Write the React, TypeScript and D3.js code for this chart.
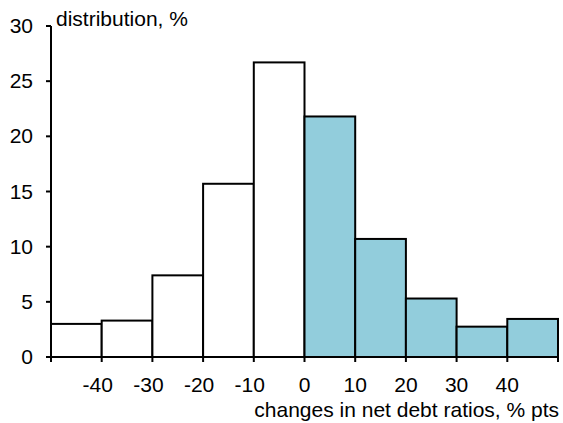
import React from "react";
import * as d3 from "d3";

const binStarts = [-50, -40, -30, -20, -10, 0, 10, 20, 30, 40];
const values = [3.0, 3.3, 7.4, 15.7, 26.7, 21.8, 10.7, 5.3, 2.75, 3.45];
const xTicks = [-50, -40, -30, -20, -10, 0, 10, 20, 30, 40, 50];
const xTickLabels = [-40, -30, -20, -10, 0, 10, 20, 30, 40];
const yTicks = [0, 5, 10, 15, 20, 25, 30];

const W = 563, H = 423;
const FONT = "Liberation Sans, Arial, sans-serif";
const FS = 21;

export default function App() {
  const x = d3.scaleLinear().domain([-50, 50]).range([51, 558]);
  const y = d3.scaleLinear().domain([0, 30]).range([357, 26]);
  const binW = 10;
  return (
    <svg width={W} height={H} style={{ position: "absolute", left: 0, top: 0, background: "#fff" }} fontFamily={FONT}>
      {binStarts.map((s, i) => (
        <rect
          key={i}
          x={x(s)}
          y={y(values[i])}
          width={x(s + binW) - x(s)}
          height={y(0) - y(values[i])}
          fill={s >= 0 ? "#92CDDC" : "#ffffff"}
          stroke="#000"
          strokeWidth={2}
        />
      ))}
      {/* y axis */}
      <line x1={x(-50)} x2={x(-50)} y1={y(30)} y2={y(0)} stroke="#000" strokeWidth={2} />
      {yTicks.map((t) => (
        <g key={t}>
          <line x1={x(-50) - 5} x2={x(-50)} y1={y(t)} y2={y(t)} stroke="#000" strokeWidth={2} />
          <text x={33} y={y(t) + 7} textAnchor="end" fontSize={FS} fill="#000">{t}</text>
        </g>
      ))}
      {/* x axis */}
      <line x1={x(-50)} x2={x(50)} y1={y(0)} y2={y(0)} stroke="#000" strokeWidth={2} />
      {xTicks.map((t) => (
        <line key={t} x1={x(t)} x2={x(t)} y1={y(0)} y2={y(0) + 5} stroke="#000" strokeWidth={2} />
      ))}
      {xTickLabels.map((t) => (
        <text key={t} x={x(t) + (t < 0 ? -4 : 0)} y={392} textAnchor="middle" fontSize={FS} fill="#000">{t}</text>
      ))}
      <text x={56} y={26} fontSize={FS} fill="#000">distribution, %</text>
      <text x={559} y={417} textAnchor="end" fontSize={FS} fill="#000">changes in net debt ratios, % pts</text>
    </svg>
  );
}
